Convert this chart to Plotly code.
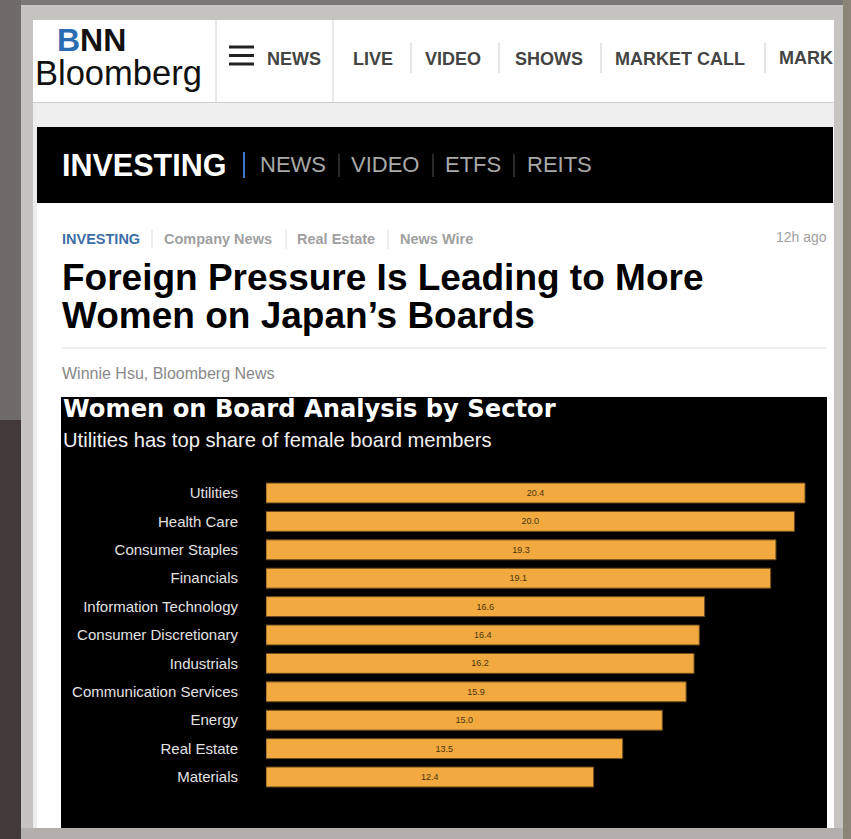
import plotly.graph_objects as go

W, H = 851, 839

# ---------------- data ----------------
sectors = ["Utilities", "Health Care", "Consumer Staples", "Financials",
           "Information Technology", "Consumer Discretionary", "Industrials",
           "Communication Services", "Energy", "Real Estate", "Materials"]
female_share = [20.4, 20.0, 19.3, 19.1, 16.6, 16.4, 16.2, 15.9, 15.0, 13.5, 12.4]

chart_title = "Women on Board Analysis by Sector"
chart_subtitle = "Utilities has top share of female board members"
source_text = "Source: Bloomberg"

top_nav = ["NEWS", "LIVE", "VIDEO", "SHOWS", "MARKET CALL"]
section_nav = ["NEWS", "VIDEO", "ETFS", "REITS"]
breadcrumbs = ["Company News", "Real Estate", "News Wire"]
headline = ["Foreign Pressure Is Leading to More", "Women on Japan\u2019s Boards"]
byline = "Winnie Hsu, Bloomberg News"


def px(x):
    return x / W


def py(y):
    return 1 - y / H


FONT = "Liberation Sans, Arial, sans-serif"

shapes = []
annotations = []


def rect(x0, y0, x1, y1, color):
    shapes.append(dict(type="rect", xref="paper", yref="paper",
                       x0=px(x0), x1=px(x1), y0=py(y1), y1=py(y0),
                       fillcolor=color, line=dict(width=0), layer="below"))


def line(x0, y0, x1, y1, color, w=1):
    shapes.append(dict(type="line", xref="paper", yref="paper",
                       x0=px(x0), x1=px(x1), y0=py(y0), y1=py(y1),
                       line=dict(color=color, width=w), layer="below"))


def text(x, y, s, size, color, bold=False, xanchor="left", family=FONT):
    if bold:
        s = "<b>" + s + "</b>"
    annotations.append(dict(xref="paper", yref="paper", x=px(x), y=py(y),
                            text=s, showarrow=False, xanchor=xanchor,
                            yanchor="middle",
                            font=dict(family=family, size=size, color=color)))


# ---------------- backdrop ----------------
rect(0, 0, 21, 420, "#6f6b68")
rect(0, 420, 21, 839, "#433a38")
rect(843, 0, 851, 839, "#8a8576")
rect(21, 5, 843, 839, "#c5c4c1")
rect(21, 828, 843, 839, "#b3afad")
rect(33, 20, 834, 828, "#ffffff")
rect(33, 103, 834, 127, "#efefef")
rect(33, 103, 37, 828, "#ececec")
line(33, 102.5, 834, 102.5, "#cfcfcf", 1)
line(216, 20, 216, 102, "#d4d4d4", 1)
line(333, 20, 333, 102, "#d4d4d4", 1)

# logo
annotations.append(dict(xref="paper", yref="paper", x=px(55), y=py(40),
                        text="<b><span style='color:#2b6cb3'>B</span>NN</b>",
                        showarrow=False, xanchor="left", yanchor="middle",
                        font=dict(family=FONT, size=32, color="#111111")))
text(33, 73, "Bloomberg", 34.5, "#111111")

# hamburger
for yy in (47, 55.5, 64):
    line(229, yy, 254, yy, "#222222", 3)

# top nav
nav_x = [265, 351, 423, 513, 613]
for x, s in zip(nav_x, top_nav):
    text(x, 59, s, 18, "#444444", bold=True)
for x in (411, 499, 601, 765):
    line(x, 43, x, 73, "#cccccc", 1)

# section band
rect(37, 127, 833, 203, "#000000")
text(60, 165, "INVESTING", 30.5, "#ffffff", bold=True)
line(244, 152, 244, 178, "#3a78c3", 2)
for x, s in zip([258, 349, 443, 525], section_nav):
    text(x, 165, s, 22, "#a9a9a9")
for x in (339, 433, 514):
    line(x, 154, x, 177, "#555555", 1)

# breadcrumbs
text(60, 239, "INVESTING", 14.5, "#3d6ea8", bold=True)
for x, s in zip([162, 295, 398], breadcrumbs):
    text(x, 239, s, 14.5, "#a0a0a0", bold=True)
for x in (152, 286, 388):
    line(x, 230, x, 249, "#dddddd", 1)
text(829, 237, "12h ago", 14, "#a0a0a0", xanchor="right")

# headline
text(60, 278, headline[0], 37, "#000000", bold=True)
text(60, 316, headline[1], 37, "#000000", bold=True)
line(62, 348, 827, 348, "#dddddd", 1)
text(60, 373, byline, 16, "#888888")

# chart background
rect(61, 397, 827, 828, "#000000")
text(61, 409, chart_title, 24.2, "#ffffff", bold=True,
     family="DejaVu Sans, Verdana, sans-serif")
text(61, 440, chart_subtitle, 20.2, "#f0f0f0")

# ---------------- chart ----------------
fig = go.Figure()
fig.add_trace(go.Bar(
    x=female_share, y=sectors, orientation="h",
    marker=dict(color="#f2a93f", line=dict(color="#6e4c1c", width=1)),
    text=female_share, texttemplate="%{x:.1f}", textposition="inside",
    insidetextanchor="middle", textangle=0,
    textfont=dict(family=FONT, size=9, color="#4a3510"),
    hoverinfo="skip", showlegend=False,
))

# clipped decorative text (page edges cut them off)
fig.add_trace(go.Scatter(
    x=[779, 90], y=[59, 836], mode="text",
    text=["<b>MARK</b>", "<b>" + source_text + "</b>"],
    textposition="middle right",
    textfont=dict(family=FONT, size=[18, 14], color=["#444444", "#ffffff"]),
    xaxis="x2", yaxis="y2", hoverinfo="skip", showlegend=False,
    cliponaxis=True,
))

pitch = 28.4
top_center = 493
y_top = top_center - pitch / 2
y_bot = y_top + pitch * len(sectors)
x_left, x_right = 266, 827
unit = (805 - 266) / 20.4

fig.update_layout(
    width=W, height=H,
    margin=dict(l=0, r=0, t=0, b=0),
    paper_bgcolor="#7b7773",
    plot_bgcolor="rgba(0,0,0,0)",
    shapes=shapes, annotations=annotations,
    bargap=0.3,
    xaxis=dict(domain=[px(x_left), px(x_right)],
               range=[0, (x_right - x_left) / unit],
               visible=False, fixedrange=True),
    yaxis=dict(domain=[py(y_bot), py(y_top)],
               categoryorder="array", categoryarray=sectors,
               range=[len(sectors) - 0.5, -0.5],
               showgrid=False, zeroline=False, showline=False, ticks="",
               ticklabelstandoff=27,
               tickfont=dict(family=FONT, size=15, color="#e2e2e2"),
               fixedrange=True),
    xaxis2=dict(domain=[px(33), px(834)], range=[33, 834], visible=False,
                anchor="y2", fixedrange=True),
    yaxis2=dict(domain=[py(828), py(20)], range=[828, 20], visible=False,
                anchor="x2", fixedrange=True),
    hovermode=False,
)

fig.write_html(
    "out.html",
    config={"displayModeBar": False},
    post_script="document.body.style.margin='0';"
                "document.body.style.padding='0';"
                "document.body.style.overflow='hidden';"
                "document.body.style.background='#7b7773';",
)
